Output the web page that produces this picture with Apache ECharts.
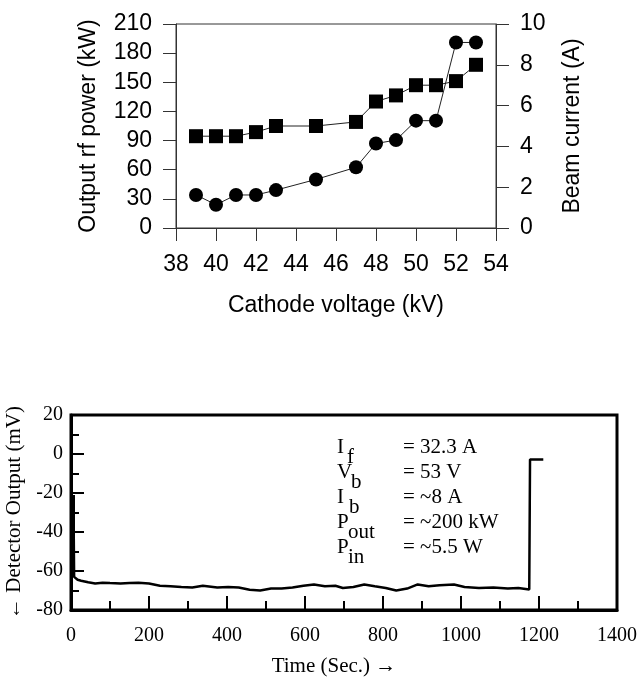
<!DOCTYPE html>
<html>
<head>
<meta charset="utf-8">
<script src="https://cdn.jsdelivr.net/npm/echarts@6/dist/echarts.min.js"></script>
<style>
html,body{margin:0;padding:0;background:#fff;}
#chart{width:638px;height:677px;}
</style>
</head>
<body>
<div id="chart"></div>
<script>
// ---- Top chart data ----
const cathodeVoltage = [39, 40, 41, 42, 43, 45, 47, 48, 49, 50, 51, 52, 53];
const outputPower = [34, 24, 34, 34, 39, 50, 62.5, 87, 90.5, 110.5, 110.5, 191, 191];
const beamCurrent = [4.5, 4.5, 4.5, 4.7, 5.0, 5.0, 5.2, 6.2, 6.5, 7.0, 7.0, 7.2, 8.0];

// ---- Bottom chart data ----
const timeSec = [7, 7, 8, 12, 17, 26, 44, 62, 81, 100, 127, 150, 173, 200, 228, 255, 283, 311, 338, 375, 403, 430, 458, 485, 513, 540, 568, 596, 623, 651, 678, 697, 724, 752, 779, 807, 834, 862, 889, 917, 945, 982, 1009, 1046, 1083, 1120, 1147, 1175, 1177, 1177, 1211];
const detectorOutput = [-21, -40, -63, -64, -64.5, -65, -65.8, -66.4, -66, -66.2, -66.4, -66.2, -66, -66.4, -67.6, -67.8, -68.2, -68.5, -67.6, -68.5, -68.2, -68.5, -69.6, -70, -69, -69, -68.5, -67.6, -66.9, -67.8, -67.6, -68.7, -68.2, -66.9, -67.8, -68.7, -70, -69, -66.9, -67.8, -67.3, -66.9, -68.2, -68.7, -68.5, -69, -68.7, -69.5, -69.5, -2.8, -2.8];

// ---- Annotation texts ----
const annoMain = ['I', 'V', 'I', 'P', 'P'];
const annoSub = ['f', 'b', 'b', 'out', 'in'];
const annoValue = ['= 32.3 A', '= 53 V', '= ~8 A', '= ~200 kW', '= ~5.5 W'];

const sans = '"Liberation Sans", Arial, sans-serif';
const serif = '"Liberation Serif", "Times New Roman", serif';
const gray = '#333';

function pair(xs, ys) { return xs.map((x, i) => [x, ys[i]]); }
const plain = v => String(v);

const subX = [347, 351, 349, 348, 348];
const graphics = [];
annoMain.forEach((m, i) => {
  const yc = 447 + i * 25;
  graphics.push({type: 'text', x: 337, y: yc, style: {text: m, fontSize: 21, fontFamily: serif, fill: '#000', verticalAlign: 'middle'}});
  graphics.push({type: 'text', x: subX[i], y: yc + 10, style: {text: annoSub[i], fontSize: 21, fontFamily: serif, fill: '#000', verticalAlign: 'middle'}});
  graphics.push({type: 'text', x: 403, y: yc, style: {text: annoValue[i], fontSize: 21, fontFamily: serif, fill: '#000', verticalAlign: 'middle'}});
});

const noLabel = {show: false};
const chart = echarts.init(document.getElementById('chart'), null, {renderer: 'canvas'});
chart.setOption({
  animation: false,
  backgroundColor: '#fff',
  grid: [
    {left: 176, top: 24, width: 320, height: 204, show: true, borderColor: gray, borderWidth: 1, containLabel: false, outerBoundsMode: 'none'},
    {left: 71, top: 415, width: 546, height: 195, show: true, borderColor: '#000', borderWidth: 3, containLabel: false, outerBoundsMode: 'none'}
  ],
  xAxis: [
    {
      gridIndex: 0, type: 'value', position: 'bottom', min: 38, max: 54, interval: 2,
      axisLine: {show: true, onZero: false, lineStyle: {color: gray, width: 1}},
      axisTick: {show: true, inside: false, length: 13, lineStyle: {color: gray, width: 1}},
      axisLabel: {margin: 25, fontSize: 23, fontFamily: sans, color: '#000', hideOverlap: false},
      splitLine: {show: false},
      name: 'Cathode voltage (kV)', nameLocation: 'middle', nameGap: 66,
      nameTextStyle: {fontSize: 23, fontFamily: sans, color: '#000'}
    },
    {
      gridIndex: 1, type: 'value', position: 'bottom', min: 0, max: 1400, interval: 100,
      axisLine: {show: false, onZero: false},
      axisTick: {show: true, inside: true, length: 9, lineStyle: {color: '#000', width: 2}},
      axisLabel: noLabel,
      splitLine: {show: false}
    },
    {
      gridIndex: 1, type: 'value', position: 'bottom', min: 0, max: 1400, interval: 200,
      axisLine: {show: true, onZero: false, lineStyle: {color: '#000', width: 3}},
      axisTick: {show: true, inside: true, length: 14, lineStyle: {color: '#000', width: 2}},
      axisLabel: {margin: 16, fontSize: 20, fontFamily: serif, color: '#000', hideOverlap: false, formatter: plain},
      splitLine: {show: false},
      name: 'Time (Sec.) \u2192', nameLocation: 'middle', nameGap: 46,
      nameTextStyle: {fontSize: 21, fontFamily: serif, color: '#000', padding: [0, 20, 0, 0]}
    }
  ],
  yAxis: [
    {
      gridIndex: 0, type: 'value', position: 'left', min: 0, max: 210, interval: 30,
      axisLine: {show: true, onZero: false, lineStyle: {color: gray, width: 1}},
      axisTick: {show: true, inside: false, length: 13, lineStyle: {color: gray, width: 1}},
      axisLabel: {margin: 24, fontSize: 23, fontFamily: sans, color: '#000', hideOverlap: false},
      splitLine: {show: false},
      name: 'Output rf power (kW)', nameLocation: 'middle', nameGap: 76,
      nameTextStyle: {fontSize: 23, fontFamily: sans, color: '#000'}
    },
    {
      gridIndex: 0, type: 'value', position: 'right', min: 0, max: 10, interval: 2,
      axisLine: {show: true, onZero: false, lineStyle: {color: gray, width: 1}},
      axisTick: {show: true, inside: false, length: 13, lineStyle: {color: gray, width: 1}},
      axisLabel: {margin: 24, fontSize: 23, fontFamily: sans, color: '#000', hideOverlap: false},
      splitLine: {show: false},
      name: 'Beam current (A)', nameLocation: 'middle', nameGap: 65,
      nameTextStyle: {fontSize: 23, fontFamily: sans, color: '#000'}
    },
    {
      gridIndex: 1, type: 'value', position: 'left', min: -80, max: 20, interval: 10,
      axisLine: {show: false, onZero: false},
      axisTick: {show: true, inside: true, length: 8, lineStyle: {color: '#000', width: 2}},
      axisLabel: noLabel,
      splitLine: {show: false}
    },
    {
      gridIndex: 1, type: 'value', position: 'left', min: -80, max: 20, interval: 20,
      axisLine: {show: true, onZero: false, lineStyle: {color: '#000', width: 3}},
      axisTick: {show: true, inside: true, length: 13, lineStyle: {color: '#000', width: 2}},
      axisLabel: {margin: 8, fontSize: 20, fontFamily: serif, color: '#000', hideOverlap: false},
      splitLine: {show: false},
      name: '\u2190 Detector Output (mV)', nameLocation: 'middle', nameGap: 34,
      nameTextStyle: {fontSize: 21, fontFamily: serif, color: '#000'}
    }
  ],
  series: [
    {
      name: 'Output rf power', type: 'line', xAxisIndex: 0, yAxisIndex: 0,
      data: pair(cathodeVoltage, outputPower),
      symbol: 'circle', symbolSize: 14,
      itemStyle: {color: '#000'}, lineStyle: {color: '#222', width: 1}
    },
    {
      name: 'Beam current', type: 'line', xAxisIndex: 0, yAxisIndex: 1,
      data: pair(cathodeVoltage, beamCurrent),
      symbol: 'rect', symbolSize: 14,
      itemStyle: {color: '#000'}, lineStyle: {color: '#222', width: 1}
    },
    {
      name: 'Detector output', type: 'line', xAxisIndex: 2, yAxisIndex: 3,
      data: pair(timeSec, detectorOutput),
      showSymbol: false, symbol: 'none',
      lineStyle: {color: '#000', width: 2.5}
    }
  ],
  graphic: graphics
});
</script>
</body>
</html>
